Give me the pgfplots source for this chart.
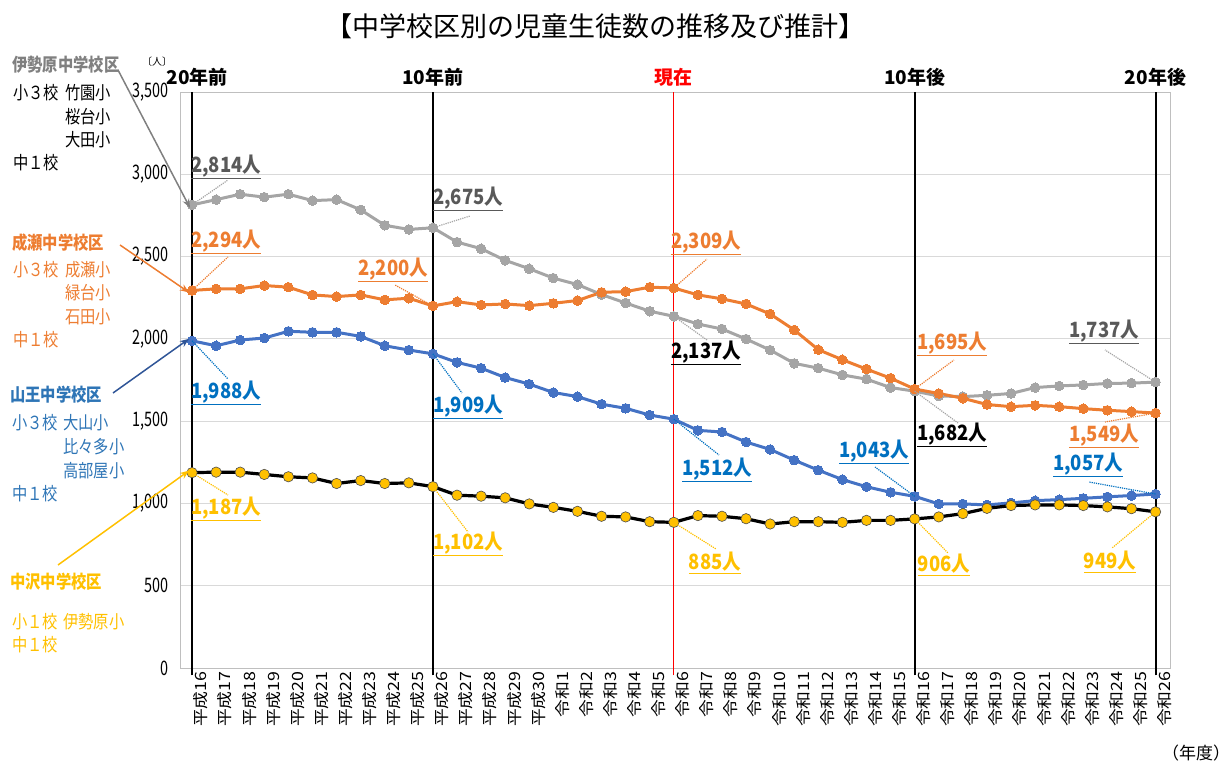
\documentclass[border=0pt]{standalone}
\usepackage{pgfplots}
\pgfplotsset{compat=1.18}
\usepackage{fontspec}
\setmainfont{Noto Sans CJK JP}
\newfontfamily\tickfont{Noto Sans CJK JP}[FakeStretch=0.72]
\newfontfamily\xtickfont{Noto Sans CJK JP}[FakeStretch=1.15]
\newfontfamily\narrowfont{Noto Sans CJK JP}[FakeStretch=0.85]
\newfontfamily\labelfont{Noto Sans CJK JP}[FakeStretch=0.88]
\usetikzlibrary{arrows.meta}
\definecolor{cgray}{HTML}{A5A5A5}
\definecolor{cgraytxt}{HTML}{595959}
\definecolor{cgrayhead}{HTML}{808080}
\definecolor{corange}{HTML}{ED7D31}
\definecolor{cblue}{HTML}{4472C4}
\definecolor{cbluetxt}{HTML}{0070C0}
\definecolor{cbluehead}{HTML}{2E75B6}
\definecolor{carrowblue}{HTML}{2F5597}
\definecolor{cyellow}{HTML}{FFC000}
\definecolor{cgrid}{HTML}{D9D9D9}
\definecolor{cframe}{HTML}{BFBFBF}
\begin{document}
\begin{tikzpicture}[x=1pt,y=1pt]
\path[use as bounding box] (0,0) rectangle (1229,765);
\begin{axis}[
  at={(180pt,97pt)}, anchor=south west, scale only axis,
  width=990pt, height=576pt,
  xmin=-0.5, xmax=40.6, ymin=0, ymax=3500,
  clip=false,
  axis line style={cframe, line width=0.8pt},
  ymajorgrids, grid style={cgrid, line width=0.8pt},
  ytick={0,500,...,3500},
  major tick length=0pt,
  /pgf/number format/assume math mode=true,
  yticklabel style={font=\tickfont\fontsize{20}{20}\selectfont, /pgf/number format/1000 sep={,}, xshift=-8pt},
  xtick={0,...,40},
  xticklabels={平成16,平成17,平成18,平成19,平成20,平成21,平成22,平成23,平成24,平成25,平成26,平成27,平成28,平成29,平成30,令和1,令和2,令和3,令和4,令和5,令和6,令和7,令和8,令和9,令和10,令和11,令和12,令和13,令和14,令和15,令和16,令和17,令和18,令和19,令和20,令和21,令和22,令和23,令和24,令和25,令和26},
  xticklabel style={rotate=90, anchor=east, font=\xtickfont\fontsize{15.5}{15.5}\selectfont, yshift=-9pt},
]
% reference vertical lines
\draw[black, line width=2pt] (axis cs:0,-45) -- (axis cs:0,3500);
\draw[black, line width=2pt] (axis cs:10,-45) -- (axis cs:10,3500);
\draw[red, line width=1.3pt] (axis cs:20,-45) -- (axis cs:20,3500);
\draw[black, line width=2pt] (axis cs:30,-45) -- (axis cs:30,3500);
\draw[black, line width=2pt] (axis cs:40,-45) -- (axis cs:40,3500);
\node[font=\bfseries\fontsize{19}{19}\selectfont, anchor=south, inner sep=0pt, yshift=5pt, xshift=5pt] at (axis cs:0,3500) {20年前};
\node[font=\bfseries\fontsize{19}{19}\selectfont, anchor=south, inner sep=0pt, yshift=5pt] at (axis cs:10,3500) {10年前};
\node[font=\bfseries\fontsize{19}{19}\selectfont, anchor=south, inner sep=0pt, yshift=5pt, text=red] at (axis cs:20,3500) {現在};
\node[font=\bfseries\fontsize{19}{19}\selectfont, anchor=south, inner sep=0pt, yshift=5pt] at (axis cs:30,3500) {10年後};
\node[font=\bfseries\fontsize{19}{19}\selectfont, anchor=south, inner sep=0pt, yshift=5pt] at (axis cs:40,3500) {20年後};

% 伊勢原中学校区
\addplot[cgray, line width=3pt, mark=*, mark size=4.8pt, mark options={fill=cgray, draw=cgray, line width=0pt}] coordinates {
(0,2814)(1,2846)(2,2879)(3,2861)(4,2879)(5,2840)(6,2846)(7,2784)(8,2690)(9,2665)
(10,2675)(11,2588)(12,2548)(13,2477)(14,2426)(15,2369)(16,2330)(17,2269)(18,2218)(19,2168)
(20,2137)(21,2090)(22,2060)(23,1999)(24,1932)(25,1851)(26,1822)(27,1781)(28,1755)(29,1704)
(30,1682)(31,1653)(32,1649)(33,1657)(34,1668)(35,1704)(36,1714)(37,1720)(38,1729)(39,1731)
(40,1737)};
% 成瀬中学校区
\addplot[corange, line width=3pt, mark=*, mark size=4.8pt, mark options={fill=corange, draw=corange, line width=0pt}] coordinates {
(0,2294)(1,2304)(2,2304)(3,2324)(4,2314)(5,2267)(6,2257)(7,2267)(8,2237)(9,2247)
(10,2200)(11,2226)(12,2206)(13,2212)(14,2202)(15,2216)(16,2233)(17,2283)(18,2287)(19,2314)
(20,2309)(21,2267)(22,2243)(23,2212)(24,2151)(25,2054)(26,1934)(27,1873)(28,1816)(29,1761)
(30,1695)(31,1668)(32,1639)(33,1601)(34,1588)(35,1596)(36,1588)(37,1576)(38,1566)(39,1558)
(40,1549)};
% 山王中学校区
\addplot[cblue, line width=3pt, mark=*, mark size=4.8pt, mark options={fill=cblue, draw=cblue, line width=0pt}] coordinates {
(0,1988)(1,1958)(2,1993)(3,2005)(4,2046)(5,2040)(6,2040)(7,2015)(8,1958)(9,1932)
(10,1909)(11,1857)(12,1822)(13,1765)(14,1725)(15,1674)(16,1649)(17,1603)(18,1578)(19,1537)
(20,1512)(21,1444)(22,1434)(23,1373)(24,1328)(25,1263)(26,1202)(27,1145)(28,1101)(29,1068)
(30,1043)(31,997)(32,997)(33,991)(34,1003)(35,1017)(36,1023)(37,1031)(38,1040)(39,1048)
(40,1057)};
% 中沢中学校区
\addplot[black, line width=3.2pt, mark=*, mark size=5.2pt, mark options={fill=cyellow, draw=black!70, line width=0.6pt}] coordinates {
(0,1187)(1,1190)(2,1190)(3,1176)(4,1162)(5,1155)(6,1121)(7,1139)(8,1121)(9,1125)
(10,1102)(11,1050)(12,1044)(13,1034)(14,997)(15,976)(16,952)(17,922)(18,918)(19,889)
(20,885)(21,926)(22,922)(23,907)(24,875)(25,889)(26,889)(27,885)(28,897)(29,897)
(30,906)(31,918)(32,938)(33,970)(34,987)(35,991)(36,991)(37,987)(38,979)(39,968)
(40,949)};

\coordinate (g0) at (axis cs:0,2814);
\coordinate (g10) at (axis cs:10,2675);
\coordinate (g20) at (axis cs:20,2137);
\coordinate (g30) at (axis cs:30,1682);
\coordinate (g40) at (axis cs:40,1737);
\coordinate (o0) at (axis cs:0,2294);
\coordinate (o10) at (axis cs:10,2200);
\coordinate (o20) at (axis cs:20,2309);
\coordinate (o30) at (axis cs:30,1695);
\coordinate (o40) at (axis cs:40,1549);
\coordinate (b0) at (axis cs:0,1988);
\coordinate (b10) at (axis cs:10,1909);
\coordinate (b20) at (axis cs:20,1512);
\coordinate (b30) at (axis cs:30,1043);
\coordinate (b40) at (axis cs:40,1057);
\coordinate (y0) at (axis cs:0,1187);
\coordinate (y10) at (axis cs:10,1102);
\coordinate (y20) at (axis cs:20,885);
\coordinate (y30) at (axis cs:30,906);
\coordinate (y40) at (axis cs:40,949);
\end{axis}

\begin{scope}[yshift=765pt, yscale=-1]
\tikzset{
  dl/.style={font=\labelfont\bfseries\fontsize{21}{21}\selectfont, inner sep=0pt},
  ld/.style={densely dotted, line width=1.2pt},
  ann/.style={font=\narrowfont\fontsize{18}{18}\selectfont, inner sep=0pt, anchor=west},
  head/.style={font=\narrowfont\bfseries\fontsize{18}{18}\selectfont, inner sep=0pt, anchor=west},
}
% title
\node[font=\fontsize{27}{27}\selectfont, inner sep=0pt] at (595,26) {【中学校区別の児童生徒数の推移及び推計】};
\node[font=\fontsize{10}{10}\selectfont, inner sep=0pt] at (157,62) {〔人〕};
\node[font=\fontsize{17}{17}\selectfont, inner sep=0pt] at (1196,753) {（年度）};

% leader lines
\draw[ld, cgray] (g0) -- (228,180);
\draw[ld, cgray] (g10) -- (470,216);
\draw[ld, cgray] (g20) -- (707,340);
\draw[ld, cgray] (g30) -- (958,423);
\draw[ld, cgray] (g40) -- (1105,350);
\draw[ld, corange] (o0) -- (228,257);
\draw[ld, corange] (o10) -- (395,285);
\draw[ld, corange] (o20) -- (707,259);
\draw[ld, corange] (o30) -- (954,360);
\draw[ld, corange] (o40) -- (1105,422);
\draw[ld, cbluetxt] (b0) -- (228,379);
\draw[ld, cbluetxt] (b10) -- (462,393);
\draw[ld, cbluetxt] (b20) -- (719,455);
\draw[ld, cbluetxt] (b30) -- (875,467);
\draw[ld, cbluetxt] (b40) -- (1089,482);
\draw[ld, cyellow] (y0) -- (228,495);
\draw[ld, cyellow] (y10) -- (468,532);
\draw[ld, cyellow] (y20) -- (716,549);
\draw[ld, cyellow] (y30) -- (948,553);
\draw[ld, cyellow] (y40) -- (1112,548);

% data labels
\node[dl, text=cgraytxt] at (226,167) {\underline{2,814人}};
\node[dl, text=cgraytxt] at (468,199) {\underline{2,675人}};
\node[dl, text=black] at (706,353) {\underline{2,137人}};
\node[dl, text=black] at (952,435) {\underline{1,682人}};
\node[dl, text=cgraytxt] at (1104,332) {\underline{1,737人}};
\node[dl, text=corange] at (226,242) {\underline{2,294人}};
\node[dl, text=corange] at (393,270) {\underline{2,200人}};
\node[dl, text=corange] at (706,243) {\underline{2,309人}};
\node[dl, text=corange] at (952,344) {\underline{1,695人}};
\node[dl, text=corange] at (1104,436) {\underline{1,549人}};
\node[dl, text=cbluetxt] at (226,393) {\underline{1,988人}};
\node[dl, text=cbluetxt] at (468,407) {\underline{1,909人}};
\node[dl, text=cbluetxt] at (717,470) {\underline{1,512人}};
\node[dl, text=cbluetxt] at (874,452) {\underline{1,043人}};
\node[dl, text=cbluetxt] at (1088,465) {\underline{1,057人}};
\node[dl, text=cyellow] at (226,509) {\underline{1,187人}};
\node[dl, text=cyellow] at (468,544) {\underline{1,102人}};
\node[dl, text=cyellow] at (715,563) {\underline{885人}};
\node[dl, text=cyellow] at (944,565) {\underline{906人}};
\node[dl, text=cyellow] at (1110,562) {\underline{949人}};

% left annotations
\node[head, text=cgrayhead] at (12,65) {伊勢原中学校区};
\node[ann] at (13,93) {小３校};
\node[ann] at (65,93) {竹園小};
\node[ann] at (65,117) {桜台小};
\node[ann] at (65,140) {大田小};
\node[ann] at (13,163) {中１校};
\draw[gray, line width=1.5pt, -{Stealth[length=9pt,width=7pt]}] (118,70) -- ([xshift=-2pt,yshift=3pt]g0);

\node[head, text=corange] at (12,243) {成瀬中学校区};
\begin{scope}[every node/.append style={text=corange}]
\node[ann] at (13,270) {小３校};
\node[ann] at (65,270) {成瀬小};
\node[ann] at (65,293) {緑台小};
\node[ann] at (65,317) {石田小};
\node[ann] at (13,340) {中１校};
\end{scope}
\draw[corange, line width=1.5pt, -{Stealth[length=9pt,width=7pt]}] (120,245) -- ([xshift=-3pt,yshift=2pt]o0);

\node[head, text=cbluehead] at (10,395) {山王中学校区};
\begin{scope}[every node/.append style={text=cbluehead}]
\node[ann] at (12,423) {小３校};
\node[ann] at (63,423) {大山小};
\node[ann] at (63,447) {比々多小};
\node[ann] at (63,471) {高部屋小};
\node[ann] at (12,494) {中１校};
\end{scope}
\draw[carrowblue, line width=1.5pt, -{Stealth[length=9pt,width=7pt]}] (113,393) -- ([xshift=-3pt,yshift=-2pt]b0);

\node[head, text=cyellow] at (10,582) {中沢中学校区};
\begin{scope}[every node/.append style={text=cyellow}]
\node[ann] at (12,622) {小１校};
\node[ann] at (63,622) {伊勢原小};
\node[ann] at (12,645) {中１校};
\end{scope}
\draw[cyellow, line width=1.5pt, -{Stealth[length=9pt,width=7pt]}] (58,565) -- ([xshift=-3pt,yshift=-2pt]y0);
\end{scope}
\end{tikzpicture}
\end{document}
